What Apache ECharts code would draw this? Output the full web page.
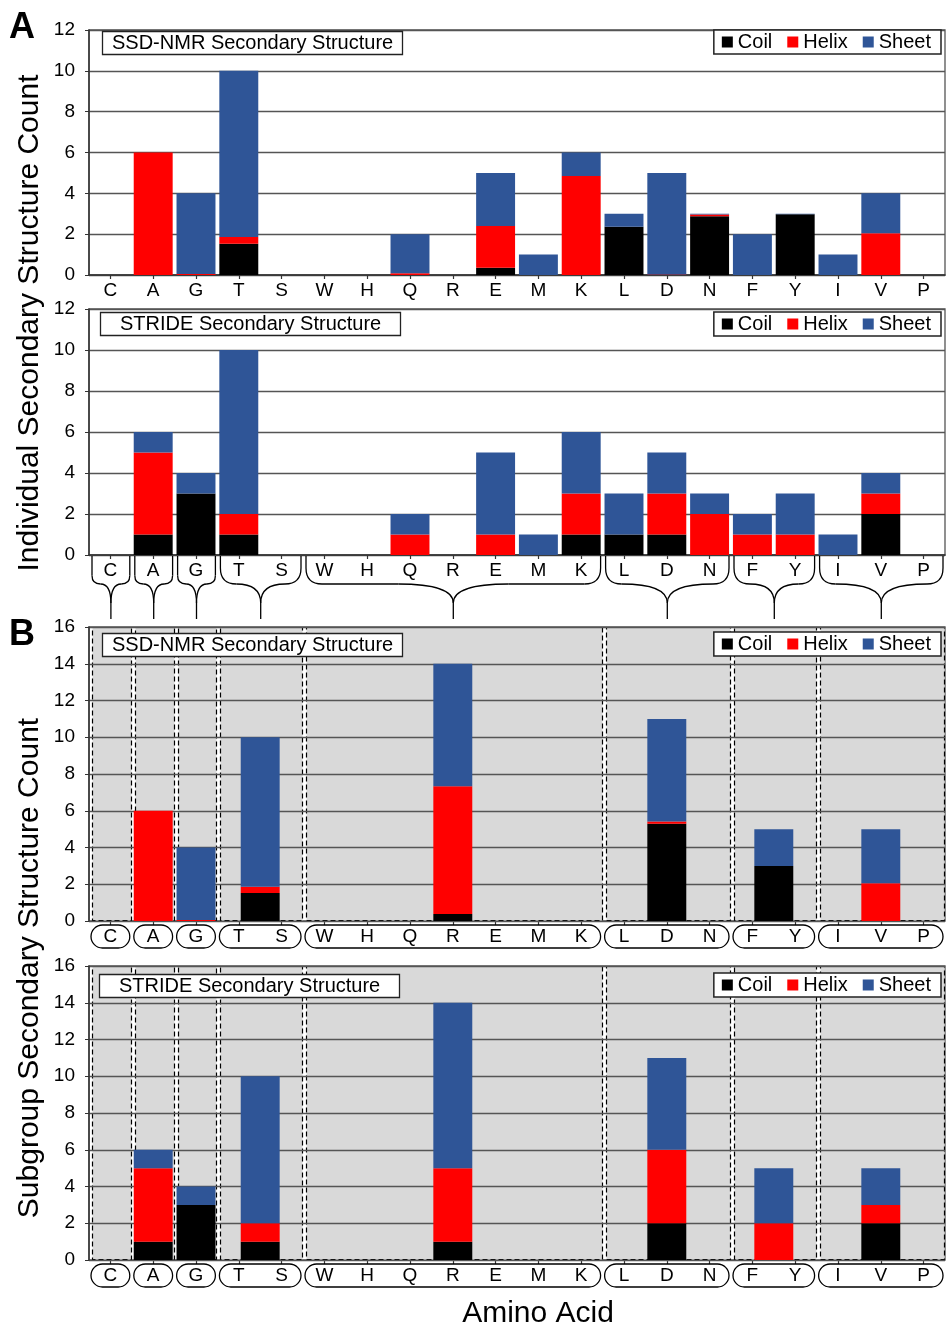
<!DOCTYPE html>
<html><head><meta charset="utf-8">
<script src="https://cdn.jsdelivr.net/npm/echarts@6/dist/echarts.min.js"></script>
<style>html,body{margin:0;padding:0;background:#fff}#c{width:946px;height:1327px}</style>
</head><body><div id="c"></div>
<script>
// ---------------- DATA ----------------
const aminoAcids = ['C','A','G','T','S','W','H','Q','R','E','M','K','L','D','N','F','Y','I','V','P'];
const seriesNames = ['Coil','Helix','Sheet'];
// Panel A (individual residues) – SSD-NMR
const nmrCoil  = [0,0,0,1.53,0,0,0,0,0,0.35,0,0,2.36,0,2.88,0,2.97,0,0,0];
const nmrHelix = [0,6,0.05,0.33,0,0,0,0.08,0,2.05,0,4.85,0,0.03,0.08,0,0,0,2.04,0];
const nmrSheet = [0,0,3.95,8.14,0,0,0,1.92,0,2.6,1,1.15,0.64,4.97,0.04,2,0.03,1,1.96,0];
// Panel A – STRIDE
const strideCoil  = [0,1,3,1,0,0,0,0,0,0,0,1,1,1,0,0,0,0,2,0];
const strideHelix = [0,4,0,1,0,0,0,1,0,1,0,2,0,2,2,1,1,0,1,0];
const strideSheet = [0,1,1,8,0,0,0,1,0,4,1,3,2,2,1,1,2,1,1,0];
// Panel B (subgroups)
const subgroups = [['C'],['A'],['G'],['T','S'],['W','H','Q','R','E','M','K'],['L','D','N'],['F','Y'],['I','V','P']];
const nmrGroupCoil  = [0,0,0,1.53,0.38,5.29,2.99,0];
const nmrGroupHelix = [0,6,0.05,0.33,6.96,0.13,0,2.05];
const nmrGroupSheet = [0,0,3.95,8.14,6.66,5.58,2.01,2.95];
const strideGroupCoil  = [0,1,3,1,1,2,0,2];
const strideGroupHelix = [0,4,0,1,4,4,2,1];
const strideGroupSheet = [0,1,1,8,9,5,3,2];
const yTicksA = {min:0, max:12, interval:2};
const yTicksB = {min:0, max:16, interval:2};

// ---------------- STYLE ----------------
const FONT = "'Liberation Sans', Arial, Helvetica, sans-serif";
const colors = {Coil:'#000000', Helix:'#ff0000', Sheet:'#2f5597'};
const gridLine = '#555';

const grids = [
  {left:89, right:1, top:30,  height:245},
  {left:89, right:1, top:309, height:246},
  {left:89, right:1, top:627, height:294},
  {left:89, right:1, top:966, height:294}
].map(g => Object.assign({show:true, borderColor:gridLine, borderWidth:1.3, backgroundColor:'transparent'}, g));

function catAxis(gi, labelsShown){
  return {type:'category', gridIndex:gi, data:aminoAcids, boundaryGap:true,
    axisLine:{show:gi<2, onZero:false, lineStyle:{color:'#333', width:1.5}},
    axisTick:{show:true, alignWithLabel:true, length:4, lineStyle:{color:'#333', width:1.2}},
    axisLabel:{show:labelsShown, interval:0, fontSize:19, color:'#000', fontFamily:FONT, margin:6},
    splitLine:{show:false}};
}
function valXAxis(gi){
  return {type:'value', gridIndex:gi, min:-0.5, max:19.5, show:false, axisLine:{onZero:false}, splitLine:{show:false}};
}
function yAxis(gi, t, z){
  return {type:'value', gridIndex:gi, min:t.min, max:t.max, interval:t.interval, z:z,
    axisLine:{show:true, onZero:false, lineStyle:{color:'#333', width:1.5}},
    axisTick:{show:true, length:4, lineStyle:{color:'#333'}},
    axisLabel:{fontSize:19, color:'#000', fontFamily:FONT, margin:14},
    splitLine:{show:true, lineStyle:{color:gridLine, width:1.3}}};
}

const xAxes = [catAxis(0,true), catAxis(1,true), valXAxis(1), catAxis(2,true), valXAxis(2), catAxis(3,true), valXAxis(3)];
const yAxes = [yAxis(0,yTicksA,0), yAxis(1,yTicksA,0), yAxis(2,yTicksB,1), yAxis(3,yTicksB,1)];

// ---------------- SERIES ----------------
const series = [];
function barSeries(name, data, xi, yi, stack){
  return {type:'bar', name, data, xAxisIndex:xi, yAxisIndex:yi, stack, barWidth:'91%',
    itemStyle:{color:colors[name]}, z:2, animation:false};
}
[[nmrCoil,nmrHelix,nmrSheet,0,0,'a1'],[strideCoil,strideHelix,strideSheet,1,1,'a2']].forEach(p=>{
  series.push(barSeries('Coil', p[0], p[3], p[4], p[5]));
  series.push(barSeries('Helix', p[1], p[3], p[4], p[5]));
  series.push(barSeries('Sheet', p[2], p[3], p[4], p[5]));
});

function idx(a){ return aminoAcids.indexOf(a); }
function groupCenter(g){ return g.reduce((s,a)=>s+idx(a),0)/g.length; }
function groupRange(g){ return [idx(g[0])-0.5, idx(g[g.length-1])+0.5]; }

// subgroup background boxes (grey, dashed)
function boxSeries(xi, yi, t){
  return {type:'custom', xAxisIndex:xi, yAxisIndex:yi, z:0, silent:true, animation:false,
    data: subgroups.map(g=>groupRange(g)),
    encode:{x:[0,1]},
    renderItem(params, api){
      const a = api.coord([api.value(0), t.max]);
      const b = api.coord([api.value(1), t.min]);
      const x0 = Math.round(a[0]+3)+0.5, x1 = Math.round(b[0])-0.5;
      return {type:'rect', shape:{x:x0, y:Math.round(a[1])+0.5, width:x1-x0, height:Math.round(b[1]-a[1])-1},
        style:{fill:'#d9d9d9', stroke:'#000', lineWidth:1.2, lineDash:[5,3]}};
    }};
}
// rounded label boxes under panel B axes
function pillSeries(xi, yi){
  return {type:'custom', xAxisIndex:xi, yAxisIndex:yi, z:3, silent:true, animation:false, clip:false,
    data: subgroups.map(g=>groupRange(g)),
    encode:{x:[0,1]},
    renderItem(params, api){
      const a = api.coord([api.value(0), 0]);
      const b = api.coord([api.value(1), 0]);
      return {type:'rect', shape:{x:a[0]+2, y:a[1]+4, width:b[0]-a[0]-4, height:23, r:11.5},
        style:{fill:'none', stroke:'#000', lineWidth:1.3}};
    }};
}
// stacked subgroup bars
function groupBarSeries(name, base, vals, xi, yi){
  return {type:'custom', name, xAxisIndex:xi, yAxisIndex:yi, z:2, animation:false,
    itemStyle:{color:colors[name]},
    data: subgroups.map((g,i)=>[groupCenter(g), base[i], base[i]+vals[i]]),
    encode:{x:0, y:[1,2]},
    renderItem(params, api){
      const y0 = api.value(1), y1 = api.value(2);
      if (!(y1 > y0)) return null;
      const w = api.size([1,0])[0]*0.91;
      const p0 = api.coord([api.value(0), y0]), p1 = api.coord([api.value(0), y1]);
      return {type:'rect', shape:{x:p0[0]-w/2, y:p1[1], width:w, height:p0[1]-p1[1]},
        style:{fill:api.visual('color')}};
    }};
}
function addGroupBars(c,h,s,xi,yi){
  const zero = c.map(()=>0);
  const ch = c.map((v,i)=>v+h[i]);
  series.push(groupBarSeries('Coil', zero, c, xi, yi));
  series.push(groupBarSeries('Helix', c, h, xi, yi));
  series.push(groupBarSeries('Sheet', ch, s, xi, yi));
}
series.push(boxSeries(4,2,yTicksB));
series.push(boxSeries(6,3,yTicksB));
addGroupBars(nmrGroupCoil, nmrGroupHelix, nmrGroupSheet, 4, 2);
addGroupBars(strideGroupCoil, strideGroupHelix, strideGroupSheet, 6, 3);
series.push(pillSeries(4,2));
series.push(pillSeries(6,3));

// curly braces under panel A (STRIDE) linking residues to subgroups
series.push({type:'custom', xAxisIndex:2, yAxisIndex:1, z:3, silent:true, animation:false, clip:false,
  data: subgroups.map(g=>groupRange(g)),
  encode:{x:[0,1]},
  renderItem(params, api){
    const a = api.coord([api.value(0), 0]);
    const b = api.coord([api.value(1), 0]);
    const x0 = a[0]+3, x1 = b[0]-2, xm = (x0+x1)/2, yTop = a[1]+1;
    const yH = yTop+28, yT = yTop+47, yEnd = yTop+63;
    const hw = xm-x0;
    const r = Math.min(16, hw*0.45), r2 = Math.min(Math.max(hw-r, 0), 55);
    const st = {stroke:'#000', lineWidth:1.3, fill:'none'};
    const kids = [];
    [[x0,1],[x1,-1]].forEach(([xs,d])=>{
      kids.push({type:'line', shape:{x1:xs, y1:yTop, x2:xs, y2:yH-r}, style:st});
      kids.push({type:'bezierCurve', shape:{x1:xs, y1:yH-r, cpx1:xs, cpy1:yH, x2:xs+d*r, y2:yH}, style:st});
      kids.push({type:'line', shape:{x1:xs+d*r, y1:yH, x2:xm-d*r2, y2:yH}, style:st});
      kids.push({type:'bezierCurve', shape:{x1:xm-d*r2, y1:yH, cpx1:xm, cpy1:yH, x2:xm, y2:yT}, style:st});
    });
    kids.push({type:'line', shape:{x1:xm, y1:yT, x2:xm, y2:yEnd}, style:st});
    return {type:'group', children:kids};
  }});

// ---------------- TITLES / LEGENDS ----------------
const titleBoxes = [
  {text:'SSD-NMR Secondary Structure', left:102, top:31, padding:[2,10]},
  {text:'STRIDE Secondary Structure', left:100, top:312, padding:[2,20]},
  {text:'SSD-NMR Secondary Structure', left:102, top:633, padding:[2,10]},
  {text:'STRIDE Secondary Structure', left:99, top:974, padding:[2,20]}
].map(t=>Object.assign({textStyle:{fontSize:20, fontWeight:'normal', color:'#000', fontFamily:FONT},
  borderColor:'#222', borderWidth:1.3, backgroundColor:'#fff'}, t));

const legendTops = [30, 312, 632, 973];
const legends = legendTops.map(t=>({data:seriesNames, right:5, top:t, orient:'horizontal',
  icon:'rect', itemWidth:11, itemHeight:11, itemGap:15, selectedMode:false,
  borderColor:'#222', borderWidth:1.5, backgroundColor:'#fff', padding:[2,10,2,8],
  textStyle:{fontSize:20, color:'#000', fontFamily:FONT}}));

const graphics = [
  {type:'text', x:22, y:28, style:{text:'A', fontSize:36, fontWeight:'bold', fill:'#000', fontFamily:FONT, align:'center', verticalAlign:'middle'}},
  {type:'text', x:22, y:635, style:{text:'B', fontSize:36, fontWeight:'bold', fill:'#000', fontFamily:FONT, align:'center', verticalAlign:'middle'}},
  {type:'text', x:30, y:323, rotation:Math.PI/2, style:{text:'Individual Secondary Structure Count', fontSize:30, fill:'#000', fontFamily:FONT, align:'center', verticalAlign:'middle'}},
  {type:'text', x:30, y:968, rotation:Math.PI/2, style:{text:'Subgroup Secondary Structure Count', fontSize:30, fill:'#000', fontFamily:FONT, align:'center', verticalAlign:'middle'}},
  {type:'text', x:538, y:1314, style:{text:'Amino Acid', fontSize:30, fill:'#000', fontFamily:FONT, align:'center', verticalAlign:'middle'}}
];

const chart = echarts.init(document.getElementById('c'), null, {renderer:'canvas'});
chart.setOption({
  animation:false,
  backgroundColor:'#fff',
  title:titleBoxes,
  legend:legends,
  grid:grids,
  xAxis:xAxes,
  yAxis:yAxes,
  series:series,
  graphic:graphics
});
</script></body></html>
